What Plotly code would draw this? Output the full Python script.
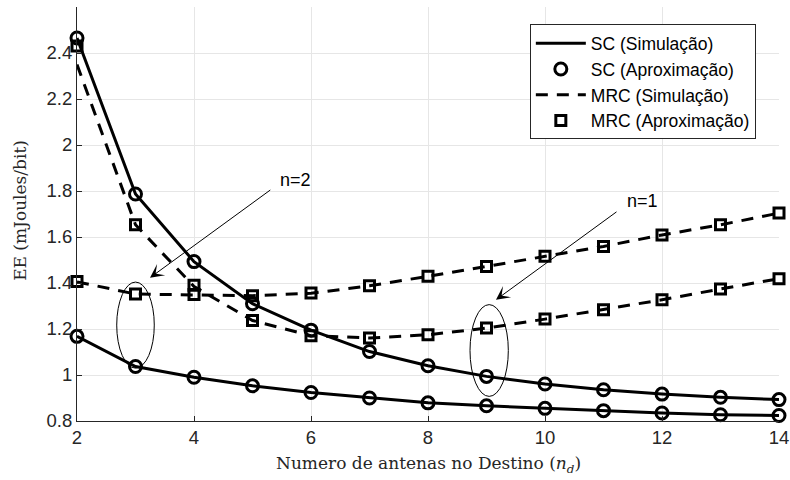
import plotly.graph_objects as go

# ---- data ----
n_d = [2, 3, 4, 5, 6, 7, 8, 9, 10, 11, 12, 13, 14]

sc_sim_n1 = [2.465, 1.787, 1.493, 1.310, 1.195, 1.102, 1.040, 0.994, 0.961, 0.936, 0.917, 0.903, 0.893]
sc_aprox_n1 = [2.465, 1.787, 1.493, 1.310, 1.195, 1.102, 1.040, 0.994, 0.961, 0.936, 0.917, 0.903, 0.893]
sc_sim_n2 = [1.168, 1.037, 0.990, 0.953, 0.924, 0.900, 0.879, 0.866, 0.855, 0.845, 0.835, 0.827, 0.824]
sc_aprox_n2 = [1.168, 1.037, 0.990, 0.953, 0.924, 0.900, 0.879, 0.866, 0.855, 0.845, 0.835, 0.827, 0.824]

mrc_sim_n1 = [2.350, 1.653, 1.385, 1.237, 1.171, 1.161, 1.175, 1.204, 1.243, 1.284, 1.327, 1.374, 1.419]
mrc_aprox_n1 = [2.430, 1.653, 1.390, 1.237, 1.171, 1.161, 1.175, 1.204, 1.243, 1.284, 1.327, 1.374, 1.419]
mrc_sim_n2 = [1.405, 1.352, 1.348, 1.345, 1.355, 1.388, 1.429, 1.472, 1.516, 1.559, 1.609, 1.653, 1.704]
mrc_aprox_n2 = [1.407, 1.352, 1.350, 1.345, 1.357, 1.388, 1.429, 1.472, 1.516, 1.559, 1.609, 1.653, 1.704]

x_ticks = [2, 4, 6, 8, 10, 12, 14]
y_ticks = [0.8, 1.0, 1.2, 1.4, 1.6, 1.8, 2.0, 2.2, 2.4]
y_tick_text = ["0.8", "1", "1.2", "1.4", "1.6", "1.8", "2", "2.2", "2.4"]

names = ["SC (Simulação)", "SC (Aproximação)", "MRC (Simulação)", "MRC (Aproximação)"]
x_title = "Numero de antenas no Destino (<i>n</i><sub><i>d</i></sub>)"
y_title = "EE (mJoules/bit)"

# ---- styles ----
BLACK = "#000000"
AXC = "#262626"
LW = 3
DASH = "12px,9px"
SANS = "Liberation Sans, Arial, sans-serif"
SERIF = "DejaVu Serif, Liberation Serif, serif"

fig = go.Figure()

def line_trace(y, dash, name, show):
    return go.Scatter(x=n_d, y=y, mode="lines", name=name, showlegend=show,
                      line=dict(color=BLACK, width=LW, dash=dash), cliponaxis=False)

def marker_trace(y, symbol, size, name, show):
    return go.Scatter(x=n_d, y=y, mode="markers", name=name, showlegend=show,
                      marker=dict(symbol=symbol, size=size, color=BLACK,
                                  line=dict(color=BLACK, width=3)),
                      cliponaxis=False)

fig.add_trace(line_trace(sc_sim_n1, "solid", names[0], True))
fig.add_trace(marker_trace(sc_aprox_n1, "circle-open", 12, names[1], True))
fig.add_trace(line_trace(mrc_sim_n1, DASH, names[2], True))
fig.add_trace(marker_trace(mrc_aprox_n1, "square-open", 10, names[3], True))
fig.add_trace(line_trace(sc_sim_n2, "solid", names[0], False))
fig.add_trace(marker_trace(sc_aprox_n2, "circle-open", 12, names[1], False))
fig.add_trace(line_trace(mrc_sim_n2, DASH, names[2], False))
fig.add_trace(marker_trace(mrc_aprox_n2, "square-open", 10, names[3], False))

# ellipses
fig.add_shape(type="circle", xref="x", yref="y", x0=2.679, x1=3.321, y0=1.030, y1=1.404,
              line=dict(color=BLACK, width=1))
fig.add_shape(type="circle", xref="x", yref="y", x0=8.718, x1=9.373, y0=0.907, y1=1.306,
              line=dict(color=BLACK, width=1))

# arrows
fig.add_annotation(x=3.248, y=1.423, ax=5.33, ay=1.809, xref="x", yref="y",
                   axref="x", ayref="y", text="", showarrow=True,
                   arrowhead=3, arrowsize=2.3, arrowwidth=1, arrowcolor=BLACK)
fig.add_annotation(x=9.162, y=1.327, ax=11.248, ay=1.714, xref="x", yref="y",
                   axref="x", ayref="y", text="", showarrow=True,
                   arrowhead=3, arrowsize=2.3, arrowwidth=1, arrowcolor=BLACK)
fig.add_annotation(x=5.73, y=1.85, xref="x", yref="y", text="n=2", showarrow=False,
                   font=dict(family=SANS, size=18, color=BLACK))
fig.add_annotation(x=11.66, y=1.755, xref="x", yref="y", text="n=1", showarrow=False,
                   font=dict(family=SANS, size=18, color=BLACK))

# axis titles
fig.add_annotation(x=0.5, y=-0.106, xref="paper", yref="paper", text=x_title,
                   showarrow=False, xanchor="center", yanchor="middle",
                   font=dict(family=SERIF, size=17, color=AXC))
fig.add_annotation(x=-0.0812, y=0.51, xref="paper", yref="paper", text=y_title,
                   showarrow=False, xanchor="center", yanchor="middle", textangle=-90,
                   font=dict(family=SERIF, size=17, color=AXC))

fig.update_layout(
    width=790, height=480,
    margin=dict(l=77, r=11, t=7, b=59, autoexpand=False),
    paper_bgcolor="white", plot_bgcolor="white",
    showlegend=True,
    legend=dict(x=0.967, y=0.958, xanchor="right", yanchor="top",
                bgcolor="white", bordercolor=AXC, borderwidth=1,
                font=dict(family=SANS, size=17.5, color=BLACK),
                itemwidth=50, tracegroupgap=0),
)

fig.update_xaxes(
    range=[2, 14], tickvals=x_ticks, ticktext=[str(v) for v in x_ticks],
    showgrid=True, gridcolor="#e6e6e6", gridwidth=1, automargin=False,
    showline=True, linecolor=AXC, linewidth=1, mirror=False,
    ticks="inside", ticklen=5, tickcolor=AXC, zeroline=False,
    tickfont=dict(family=SANS, size=18.5, color=AXC),
)
fig.update_yaxes(
    range=[0.8, 2.6], tickvals=y_ticks, ticktext=y_tick_text,
    showgrid=True, gridcolor="#e6e6e6", gridwidth=1, automargin=False,
    showline=True, linecolor=AXC, linewidth=1, mirror=False,
    ticks="inside", ticklen=5, tickcolor=AXC, zeroline=False,
    tickfont=dict(family=SANS, size=18.5, color=AXC),
)

fig.write_html("out.html", config={"displayModeBar": False},
               post_script="document.body.style.margin='0px';")
